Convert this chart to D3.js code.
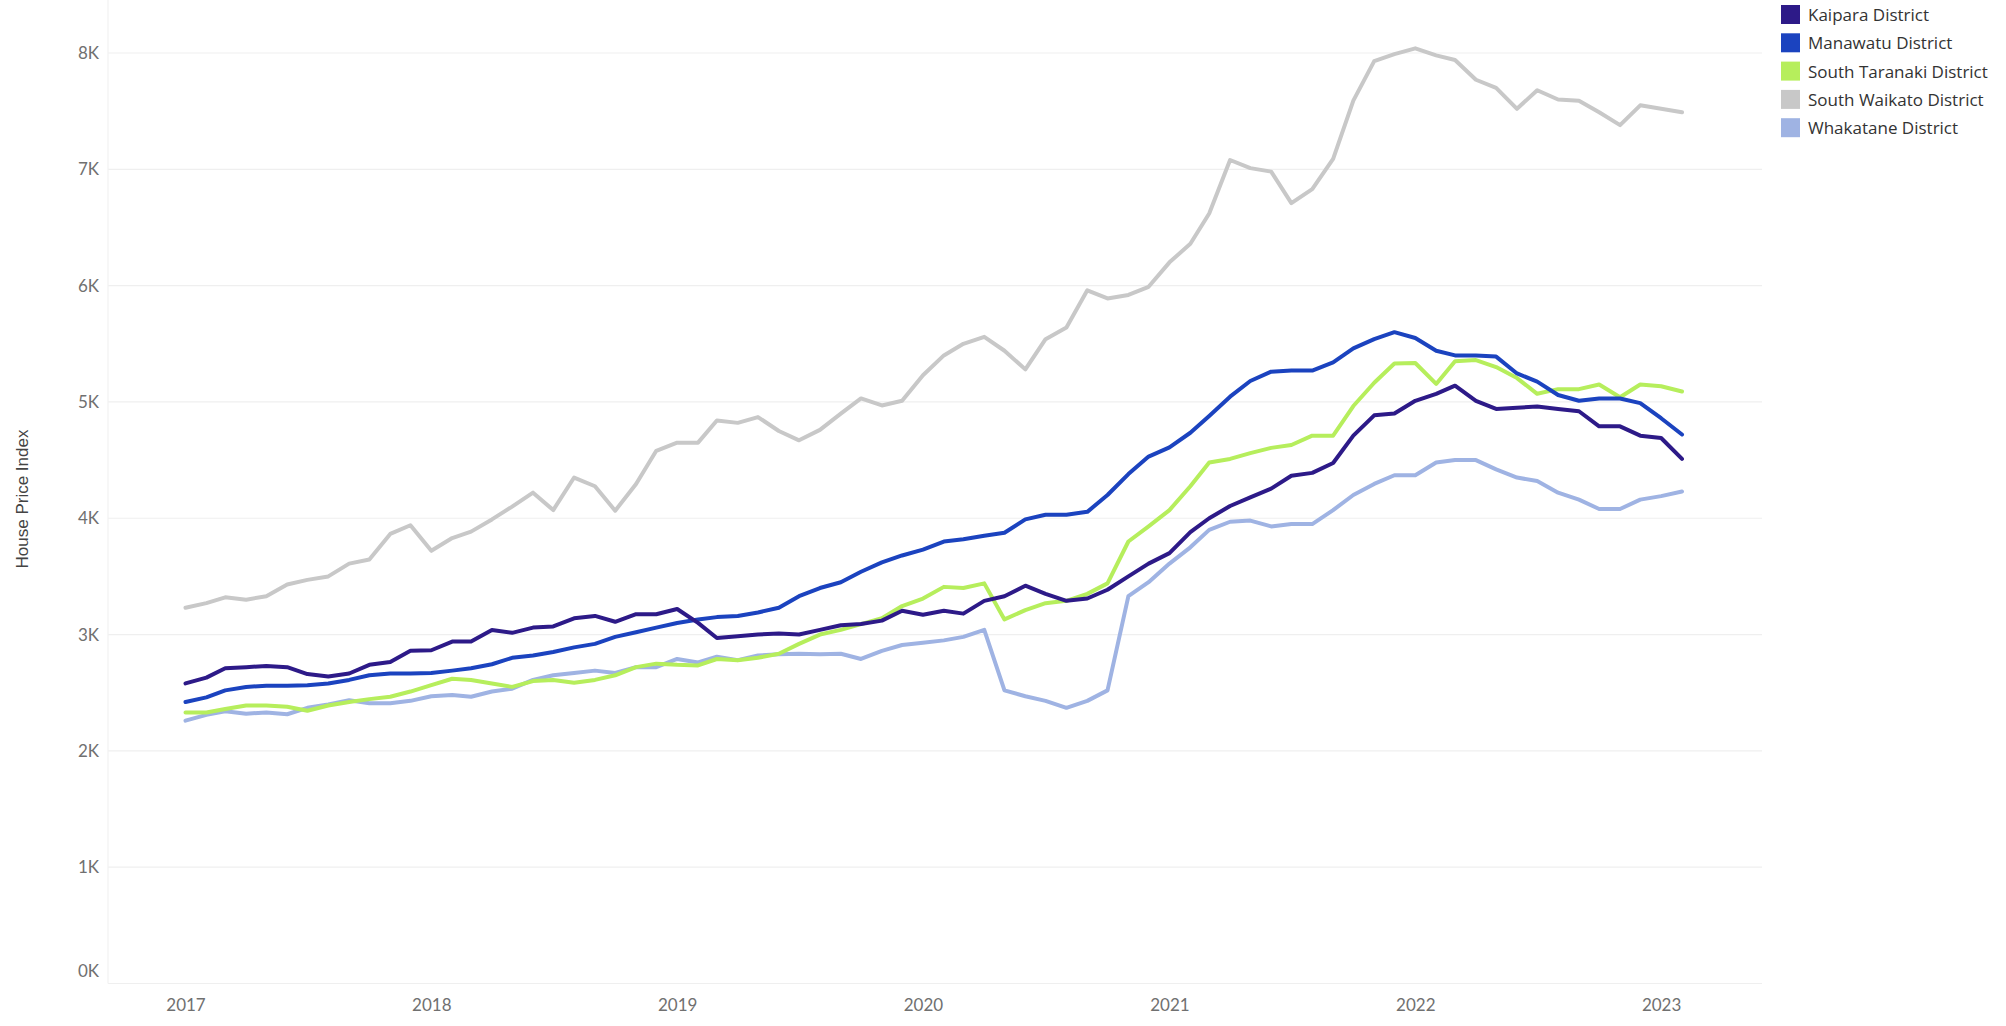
<!DOCTYPE html>
<html>
<head>
<meta charset="utf-8">
<script src="https://cdn.jsdelivr.net/npm/d3@7"></script>
<style>
  body { margin: 0; background: #fff; }
  .axis text { font-family: Lato, "Open Sans", sans-serif; font-size: 17px; fill: #707070; }
  .axis path { display: none; }
  .legend text { font-family: "Open Sans", Lato, sans-serif; font-size: 17px; fill: #333; }
</style>
</head>
<body>
<svg id="chart"></svg>
<script>
// monthly house price index, Jan 2017 - Feb 2023
var districts = ["Kaipara District", "Manawatu District", "South Taranaki District", "South Waikato District", "Whakatane District"];
var colors = ["#2d1a88", "#1b43bf", "#b6ee5c", "#c8c8c8", "#9fb3e3"];

var kaipara = [2580,2630,2710,2720,2730,2720,2660,2640,2665,2740,2765,2860,2865,2940,2940,3040,3015,3060,3070,3140,3160,3110,3175,3175,
  3220,3100,2970,2985,3000,3010,3000,3040,3080,3090,3120,3205,3170,3205,3180,3290,3330,3420,3350,3290,3310,3385,3500,3610,
  3700,3880,4000,4105,4180,4255,4365,4390,4475,4710,4885,4900,5010,5070,5140,5010,4940,4950,4960,4940,4920,4790,4790,4710,
  4690,4510];
var manawatu = [2420,2460,2520,2550,2560,2560,2565,2580,2610,2650,2665,2665,2670,2690,2710,2745,2800,2820,2850,2890,2920,2980,3020,3060,
  3100,3130,3150,3160,3190,3230,3330,3400,3450,3540,3620,3680,3730,3800,3820,3850,3875,3990,4030,4030,4055,4200,4380,4530,
  4610,4735,4880,5045,5180,5260,5270,5270,5340,5460,5540,5600,5550,5440,5400,5400,5390,5245,5175,5060,5010,5030,5030,4990,
  4860,4720];
var southTaranaki = [2330,2330,2360,2390,2390,2380,2345,2390,2420,2445,2465,2510,2565,2620,2610,2580,2550,2600,2610,2585,2610,2650,2720,2750,
  2740,2735,2790,2780,2800,2835,2920,3000,3040,3090,3140,3245,3310,3410,3400,3440,3130,3210,3270,3290,3350,3440,3800,3930,
  4070,4275,4480,4510,4560,4605,4630,4710,4710,4965,5165,5330,5335,5155,5350,5360,5300,5205,5070,5110,5110,5150,5040,5150,
  5135,5090];
var southWaikato = [3230,3270,3320,3300,3330,3430,3470,3500,3610,3645,3865,3940,3720,3830,3885,3990,4100,4220,4070,4350,4275,4065,4295,4580,
  4650,4650,4840,4820,4870,4750,4670,4760,4900,5030,4970,5010,5230,5400,5500,5560,5440,5280,5540,5640,5960,5890,5920,5990,
  6200,6360,6620,7080,7010,6980,6710,6830,7090,7590,7930,7990,8040,7980,7940,7770,7700,7520,7680,7600,7590,7490,7380,7550,
  7520,7490];
var whakatane = [2260,2310,2340,2320,2330,2315,2370,2400,2435,2410,2410,2430,2470,2480,2465,2510,2535,2610,2650,2670,2690,2670,2720,2720,
  2790,2760,2810,2780,2820,2830,2835,2830,2835,2790,2860,2910,2930,2950,2980,3040,2520,2470,2430,2370,2430,2520,3330,3450,
  3610,3750,3900,3970,3980,3930,3950,3950,4070,4200,4295,4370,4370,4480,4500,4500,4420,4350,4320,4220,4160,4080,4080,4160,
  4190,4230];
var yTicks = [0,1000,2000,3000,4000,5000,6000,7000,8000];
var yLabel = "House Price Index";

var series = [kaipara, manawatu, southTaranaki, southWaikato, whakatane];
var months = d3.timeMonth.range(new Date(2017, 0, 1), new Date(2023, 2, 1));

var width = 2006, height = 1026;
var plotLeft = 108, plotRight = 1762, plotBottom = 983.5;

var svg = d3.select("#chart").attr("width", width).attr("height", height);

var x = d3.scaleTime()
  .domain([months[0], months[months.length - 1]])
  .range([185.5, 1682]);
var y = d3.scaleLinear()
  .domain([0, 8000])
  .range([plotBottom, 53]);

// gridlines
svg.append("g").selectAll("line")
  .data(yTicks)
  .enter().append("line")
  .attr("x1", plotLeft).attr("x2", plotRight)
  .attr("y1", function(d) { return y(d); })
  .attr("y2", function(d) { return y(d); })
  .attr("stroke", "#efefef")
  .attr("stroke-width", 1.2);

svg.append("line")
  .attr("x1", plotLeft).attr("x2", plotLeft)
  .attr("y1", 0).attr("y2", plotBottom)
  .attr("stroke", "#f2f2f2")
  .attr("stroke-width", 1.2);

// axes
var yAxis = svg.append("g")
  .attr("class", "axis")
  .attr("transform", "translate(" + plotLeft + ",0)")
  .call(d3.axisLeft(y).tickValues(yTicks).tickSize(0).tickPadding(9)
    .tickFormat(function(d) { return (d / 1000) + "K"; }));
yAxis.selectAll(".tick").filter(function(d) { return d === 0; })
  .select("text").attr("y", -12);

svg.append("g")
  .attr("class", "axis")
  .attr("transform", "translate(0," + plotBottom + ")")
  .call(d3.axisBottom(x).ticks(d3.timeYear.every(1)).tickSize(0).tickPadding(15)
    .tickFormat(d3.timeFormat("%Y")));

svg.append("text")
  .attr("transform", "translate(28,499) rotate(-90)")
  .attr("text-anchor", "middle")
  .attr("font-family", "'Liberation Sans Narrow', 'Liberation Sans', sans-serif")
  .attr("font-size", "17px")
  .attr("fill", "#444")
  .text(yLabel);

// lines
var line = d3.line()
  .x(function(d, i) { return x(months[i]); })
  .y(function(d) { return y(d); });

var drawOrder = [3, 4, 2, 1, 0];
svg.append("g").selectAll("path")
  .data(drawOrder)
  .enter().append("path")
  .attr("d", function(k) { return line(series[k]); })
  .attr("fill", "none")
  .attr("stroke", function(k) { return colors[k]; })
  .attr("stroke-width", 4)
  .attr("stroke-linejoin", "round")
  .attr("stroke-linecap", "round");

// legend
var legend = svg.append("g").attr("class", "legend")
  .selectAll("g")
  .data(districts)
  .enter().append("g")
  .attr("transform", function(d, i) { return "translate(1781," + (5 + i * 28.3) + ")"; });

legend.append("rect")
  .attr("width", 19).attr("height", 19)
  .attr("fill", function(d, i) { return colors[i]; });

legend.append("text")
  .attr("x", 27).attr("y", 10)
  .attr("dy", "0.35em")
  .text(function(d) { return d; });
</script>
</body>
</html>
